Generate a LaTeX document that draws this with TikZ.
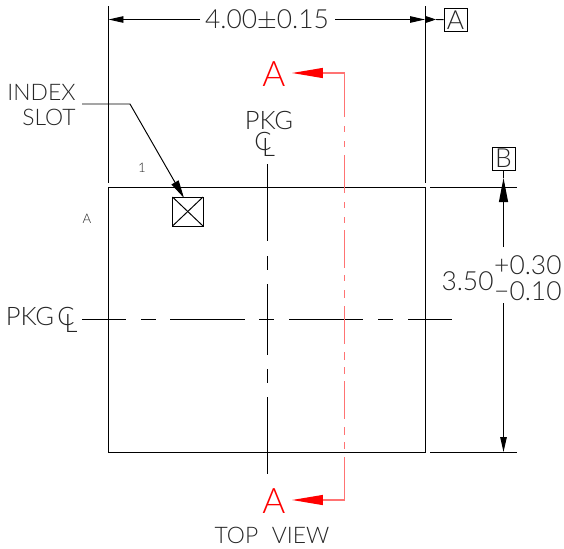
\documentclass[tikz,border=0pt]{standalone}
\usepackage{fontspec}
\setmainfont{Lato Light}
\usetikzlibrary{arrows.meta}
\tikzset{
  cadtext/.style = {inner sep = 0, text = black!85, font = \fontsize{13}{14}\selectfont},
  pkgtext/.style = {inner sep = 0, text = black!85, font = \fontsize{14.5}{15}\selectfont},
  numtext/.style = {inner sep = 0, text = black!85, font = \fontsize{15}{16}\selectfont},
  smalltext/.style = {inner sep = 0, text = black!85, font = \fontsize{7.5}{8}\selectfont},
  redtext/.style = {inner sep = 0, text = red, font = \fontsize{20}{21}\selectfont},
  datum/.style = {draw, inner sep = 0, minimum size = .46cm, text = black!85,
    font = \fontsize{15}{16}\selectfont},
  dimarrow/.style = {-{Triangle[length = .3cm, width = .13cm]}},
  redarrow/.style = {-{Triangle[length = .62cm, width = .2cm, color = red]}, red!55, line width = .7pt}
}
\begin{document}
\begin{tikzpicture}[x = .02cm, y = -.02cm, line width = .55pt]
    \useasboundingbox (0,0) rectangle (564,548);
    % body and extension lines
    \coordinate (tl) at (108.5,187);
    \coordinate (br) at (425,452);
    \draw (tl) rectangle (br);
    \draw (108.5,6) -- (108.5,183);
    \draw (425,6) -- (425,183);
    \draw (430,187) -- (517,187);
    \draw (430,452) -- (517,452);
    % center lines
    \foreach \a/\b in {164/241, 256/270, 284/355, 369/383, 397/474} {
      \draw (267,\a) -- (267,\b);
    }
    \foreach \a/\b in {82/126, 141/156, 170/245, 259/274, 289/363, 378/393, 408/452} {
      \draw (\a,319) -- (\b,319);
    }
    % section line
    \foreach \a/\b in {126/132, 141/147, 155/193, 202/208, 217/223, 230/268, 275/281,
      290/298, 306/344, 352/360, 367/374, 381/419, 427/435, 442/449} {
      \draw [red!55, line width = .7pt] (344.5,\a) -- (344.5,\b);
    }
    \coordinate (secta) at (344.5,117);
    \coordinate (sectb) at (344.5,457);
    \node [redtext] (asecta) at (274,74) {A};
    \node [redtext] (asectb) at (274,501) {A};
    \draw [redarrow] (secta) |- (292,73);
    \draw [redarrow] (sectb) |- (292,500);
    % width dimension
    \node [numtext] (width) at (267,20) {4.00$\pm$0.15};
    \node [datum] (dA) at (455.5,20) {A};
    \coordinate (wl) at (108.5,19.5);
    \coordinate (wr) at (425,19.5);
    \draw [dimarrow] (200,19.5) -- (wl);
    \draw [dimarrow] (335,19.5) -- (wr);
    \draw [-{Triangle[length = .2cm, width = .13cm]}] (wr) -- (436,19.5);
    \draw (436,19.5) -- (dA);
    % height dimension
    \node [datum] (dB) at (503.5,158.5) {B};
    \coordinate (ht) at (503.5,178);
    \coordinate (hb) at (503.5,452);
    \draw (dB) -- (ht);
    \draw [-{Triangle[length = .48cm, width = .18cm]}] (503.5,247) -- (ht);
    \draw [dimarrow] (503.5,303) -- (hb);
    \node [numtext, anchor = east] (hnom) at (494,281) {3.50};
    \node [numtext, anchor = east] (hup) at (562,265) {+0.30};
    \node [numtext, anchor = east] (hlo) at (562,291) {−0.10};
    % index slot
    \draw (172.5,197) rectangle (203,226);
    \draw (172.5,197) -- (203,226);
    \draw (172.5,226) -- (203,197);
    \node [cadtext, anchor = east] (index) at (76,92) {INDEX};
    \node [cadtext, anchor = east] (slot) at (76,117) {SLOT};
    \coordinate (slotbend) at (130,104);
    \coordinate (slottip) at (184,198);
    \draw [-{Triangle[length = .36cm, width = .16cm]}] (82,104) -- (slotbend) -- (slottip);
    \node [smalltext] (one) at (142,168) {1};
    \node [smalltext] (side) at (87,219) {A};
    % package labels
    \node [pkgtext] (pkgv) at (269,120) {PKG};
    \node [pkgtext] (pkgvc) at (263,141) {C};
    \node [pkgtext] (pkgvl) at (268.5,147) {L};
    \node [pkgtext] (pkgh) at (30,316) {PKG};
    \node [pkgtext] (pkghc) at (66,316) {C};
    \node [pkgtext] (pkghl) at (71,323) {L};
    \node [cadtext] (view) at (272,535) {TOP\hspace{.6em}VIEW};
  \end{tikzpicture}
\end{document}
